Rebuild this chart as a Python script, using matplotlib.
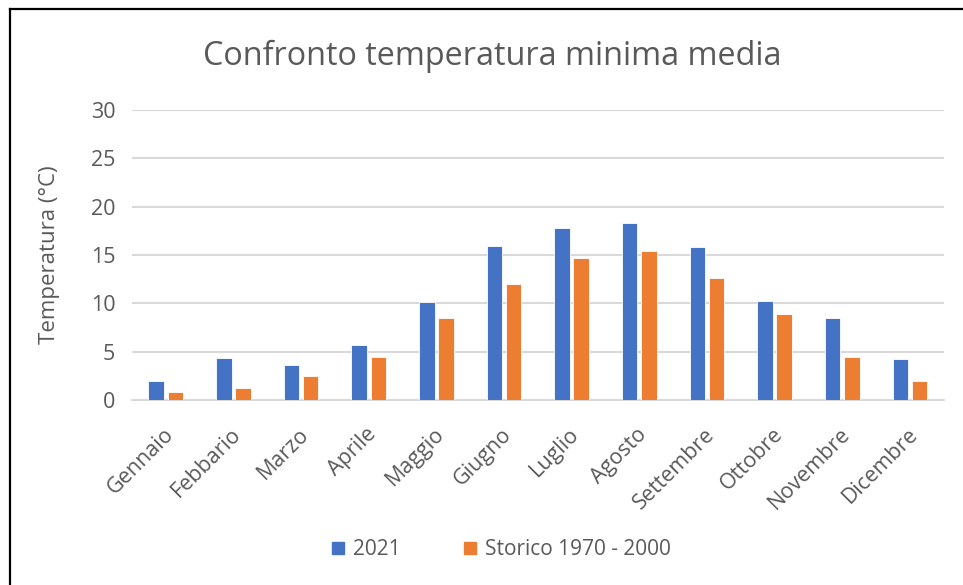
import numpy as np
import matplotlib.pyplot as plt
from matplotlib.lines import Line2D

mesi = ["Gennaio", "Febbario", "Marzo", "Aprile", "Maggio", "Giugno",
        "Luglio", "Agosto", "Settembre", "Ottobre", "Novembre", "Dicembre"]
temp_2021 = [2.0, 4.4, 3.6, 5.7, 10.1, 15.9, 17.8, 18.3, 15.8, 10.2, 8.5, 4.3]
temp_storico = [0.8, 1.3, 2.5, 4.5, 8.5, 12.0, 14.7, 15.4, 12.6, 8.9, 4.5, 2.0]
serie = ["2021", "Storico 1970 - 2000"]

BLU = "#4472C4"
ARANCIO = "#ED7D31"
GRIGIO = "#595959"

plt.rcParams["font.family"] = ["Open Sans", "DejaVu Sans"]

fig = plt.figure(figsize=(9.63, 5.85), dpi=100)
ax = fig.add_axes([0.137, 0.316, 0.843, 0.496])

x = np.arange(len(mesi))
w = 0.23
ax.bar(x - 0.142, temp_2021, w, color=BLU, edgecolor="white", linewidth=0.6,
       label=serie[0], zorder=3)
ax.bar(x + 0.142, temp_storico, w, color=ARANCIO, edgecolor="white", linewidth=0.6,
       label=serie[1], zorder=3)

ax.set_xlim(-0.5, len(mesi) - 0.5)
ax.set_ylim(0, 30)
ax.set_yticks(range(0, 31, 5))
ax.yaxis.grid(True, color="#D9D9D9", linewidth=1.5, zorder=0)
ax.set_axisbelow(True)
for s in ["top", "right", "left"]:
    ax.spines[s].set_visible(False)
ax.spines["bottom"].set_color("#D9D9D9")
ax.spines["bottom"].set_linewidth(1.5)
ax.tick_params(axis="both", length=0, colors=GRIGIO, labelsize=15.5)
ax.tick_params(axis="y", pad=12)

ax.set_xticks(x - 0.04)
ax.set_xticklabels(mesi, rotation=45, ha="right", va="top", rotation_mode="anchor")
ax.tick_params(axis="x", pad=17)

ax.set_ylabel("Temperatura (°C)", color=GRIGIO, fontsize=16, labelpad=22)
fig.text(0.511, 0.903, "Confronto temperatura minima media", ha="center", va="center",
         color=GRIGIO, fontsize=23.3)

handles = [Line2D([], [], marker="s", linestyle="none", markersize=9,
                  markerfacecolor=c, markeredgecolor=c) for c in (BLU, ARANCIO)]
fig.legend(handles, serie, loc="center", bbox_to_anchor=(0.52, 0.06), ncol=2,
           frameon=False, fontsize=15, labelcolor=GRIGIO, handlelength=0.7,
           handletextpad=0.35, columnspacing=3.0)

# bordo del riquadro
fig.add_artist(Line2D([0.0105, 0.0105], [0.0, 0.985], color="black", linewidth=1.6,
                      transform=fig.transFigure))
fig.add_artist(Line2D([0.0105, 1.0], [0.985, 0.985], color="black", linewidth=1.6,
                      transform=fig.transFigure))

fig.savefig("out.png", dpi=100)
